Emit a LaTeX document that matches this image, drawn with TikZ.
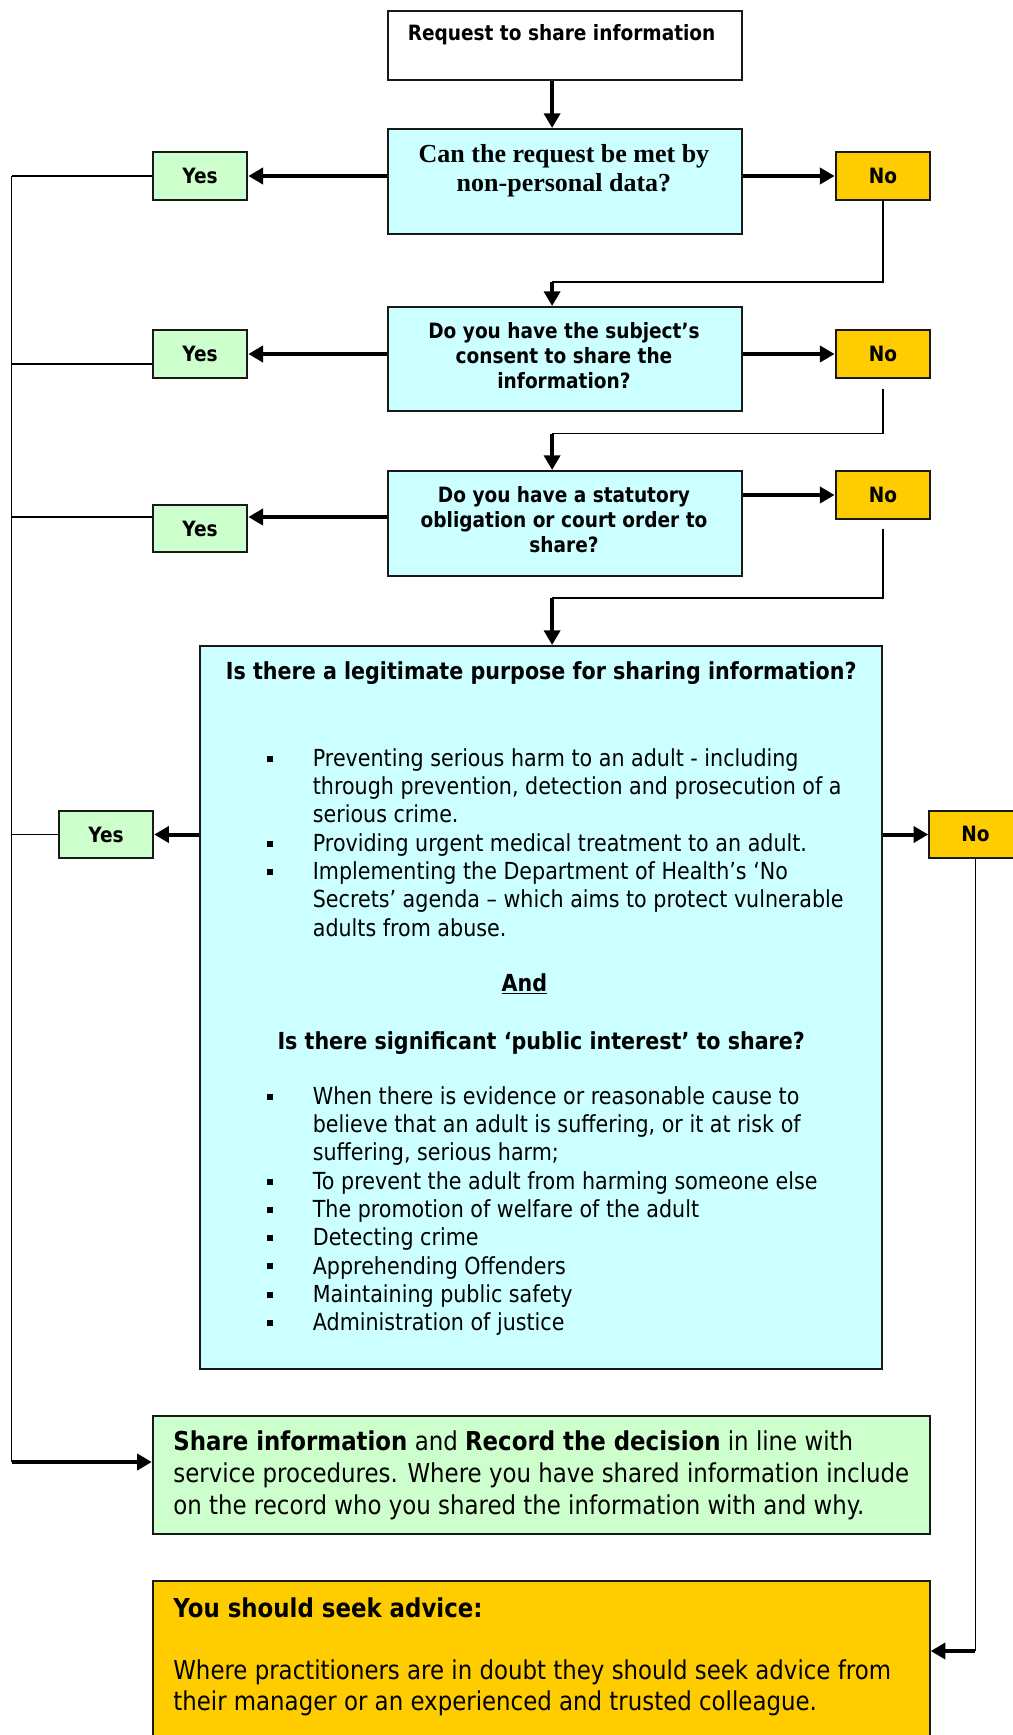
\documentclass[tikz,border=0pt]{standalone}
\usepackage{fontspec}
\setmainfont{DejaVu Sans}[FakeStretch=0.88]
\newfontfamily\qserif{Liberation Serif}
\usetikzlibrary{arrows.meta,calc}
\definecolor{cyanbox}{HTML}{CCFFFF}
\definecolor{greenbox}{HTML}{CCFFCC}
\definecolor{amber}{HTML}{FFCC00}
\newcommand\bl{\makebox[34.5pt][l]{\rule[3.5pt]{4.5pt}{4.5pt}}}
\newcommand\ind{\hspace*{34.5pt}}
\tikzset{
  box/.style={draw=black!90, line width=1.5pt, anchor=north west, inner sep=0pt},
  qfont/.style={font=\bfseries\fontsize{15.8}{18.75}\selectfont},
  ynbox/.style={box, qfont, minimum width=70.9pt, minimum height=36pt},
  yesbox/.style={ynbox, fill=greenbox},
  nobox/.style={ynbox, fill=amber},
  qbox/.style={box, fill=cyanbox, minimum width=265.6pt},
  qtext/.style={qfont, align=center, inner sep=0pt},
  body/.style={font=\fontsize{17.6}{21.2}\selectfont, inner sep=0pt},
  bodyb/.style={font=\bfseries\fontsize{17.6}{21.2}\selectfont, inner sep=0pt},
  big/.style={font=\fontsize{19.5}{24}\selectfont, inner sep=0pt},
  thinline/.style={line width=1.1pt},
  flow/.style={line width=3pt, -{Triangle[length=11pt,width=12pt]}},
}
\begin{document}
\begin{tikzpicture}[x=0.75pt,y=-0.75pt]
\useasboundingbox (0,0) rectangle (1013,1735);
\fill[white] (0,0) rectangle (1013,1735);
\clip (0,0) rectangle (1013,1735);

% guide coordinates
\coordinate (bus) at (11.6,0);
\coordinate (mid) at (552.1,0);

% boxes
\node[box, fill=white, minimum width=265.6pt, minimum height=51.75pt] (req) at (387,10) {};
\node[qtext] (reqt) at (561.6,35) {Request to share information};

\node[qbox, minimum height=78.75pt] (q1) at (387,128) {};
\node[font=\qserif\bfseries\fontsize{19.5}{21.75}\selectfont, align=center, inner sep=0pt] (q1t) at (564,170.5) {Can the request be met by\\non-personal data?};
\node[yesbox] (yes1) at (151.8,151) {Yes};
\node[nobox] (no1) at (834.6,151) {No};

\node[qbox, minimum height=78pt] (q2) at (387,306) {};
\node[qtext] (q2t) at (564,355.5) {Do you have the subject’s\\consent to share the\\information?};
\node[yesbox] (yes2) at (151.8,329) {Yes};
\node[nobox] (no2) at (834.6,329) {No};

\node[qbox, minimum height=78.75pt] (q3) at (387,470) {};
\node[qtext] (q3t) at (564,520) {Do you have a statutory\\obligation or court order to\\share?};
\node[yesbox, minimum height=35.25pt] (yes3) at (151.8,504) {Yes};
\node[nobox] (no3) at (834.6,470) {No};

\node[box, fill=cyanbox, minimum width=511.8pt, minimum height=542.25pt] (bigq) at (199,645) {};
\node[bodyb] (h1) at (541.2,673) {Is there a legitimate purpose for sharing information?};
\node[body, anchor=west, align=left] (b1) at (266.6,842.5) {%
\bl Preventing serious harm to an adult - including\\
\ind through prevention, detection and prosecution of a\\
\ind serious crime.\\
\bl Providing urgent medical treatment to an adult.\\
\bl Implementing the Department of Health’s ‘No\\
\ind Secrets’ agenda – which aims to protect vulnerable\\
\ind adults from abuse.};
\node[bodyb] (andt) at (524.3,984) {\underline{And}};
\node[bodyb] (h2) at (541.2,1043) {Is there significant ‘public interest’ to share?};
\node[body, anchor=west, align=left] (b2) at (266.6,1211) {%
\bl When there is evidence or reasonable cause to\\
\ind believe that an adult is suffering, or it at risk of\\
\ind suffering, serious harm;\\
\bl To prevent the adult from harming someone else\\
\bl The promotion of welfare of the adult\\
\bl Detecting crime\\
\bl Apprehending Offenders\\
\bl Maintaining public safety\\
\bl Administration of justice};
\node[yesbox, minimum height=35.25pt] (yes4) at (57.7,810) {Yes};
\node[nobox, minimum height=35.25pt] (no4) at (928.2,810) {};
\node[qfont, inner sep=0pt] (no4t) at (975.4,833.5) {No};

\node[box, fill=greenbox, minimum width=582.7pt, minimum height=88.5pt] (share) at (151.8,1415) {};
\node[big, anchor=west, align=left] (sharet) at (173.1,1475) {\textbf{Share information} and \textbf{Record the decision} in line with\\service procedures. Where you have shared information include\\on the record who you shared the information with and why.};

\node[box, fill=amber, minimum width=582.7pt, minimum height=135pt] (advice) at (151.8,1580) {};
\node[big, font=\bfseries\fontsize{19.5}{24}\selectfont, anchor=west] (advh) at (173.1,1608) {You should seek advice:};
\node[big, anchor=west, align=left, font=\fontsize{19.5}{23.3}\selectfont] (advt) at (173.1,1687.5) {Where practitioners are in doubt they should seek advice from\\their manager or an experienced and trusted colleague.};

% main flow
\draw[flow] (req.south -| mid) -- (q1.north -| mid);
\draw[flow] (q1.west |- yes1.east) -- (yes1.east);
\draw[flow] (q1.east |- no1.west) -- (no1.west);
\draw[flow] (q2.west |- yes2.east) -- (yes2.east);
\draw[flow] (q2.east |- no2.west) -- (no2.west);
\draw[flow] (q3.west |- 0,517) -- (yes3.east |- 0,517);
\draw[flow] (q3.east |- no3.west) -- (no3.west);
\draw[flow] (bigq.west |- yes4.east) -- (yes4.east);
\draw[flow] (bigq.east |- no4.west) -- (no4.west);

% No routes down to next question
\coordinate (j1) at (552.1,282);
\coordinate (j2) at (552.1,433.7);
\coordinate (j3) at (552.1,598);
\draw[thinline] (no1.south) |- (j1);
\draw[flow] (j1) -- (q2.north -| mid);
\draw[thinline] ([yshift=-7.5pt]no2.south) |- (j2);
\draw[flow] (j2) -- (q3.north -| mid);
\draw[thinline] ([yshift=-7pt]no3.south) |- (j3);
\draw[flow] (j3) -- (bigq.north -| mid);

% Yes bus on the left
\coordinate (busend) at (11.6,1462);
\draw[thinline] (yes1.west) -- (yes1.west -| bus);
\draw[thinline] ([yshift=-7.5pt]yes2.west) -- ([yshift=-7.5pt]yes2.west -| bus);
\draw[thinline] (yes3.west |- 0,517) -- (bus |- 0,517);
\draw[thinline] (yes4.west) -- (yes4.west -| bus);
\draw[thinline] (yes1.west -| bus) -- (busend);
\draw[flow] (busend) -- (share.west |- busend);

% No route on the right to advice
\coordinate (advin) at (975.4,1651);
\draw[thinline] (no4t |- no4.south) -- (advin);
\draw[flow] (advin) -- (advice.east |- advin);
\end{tikzpicture}
\end{document}
